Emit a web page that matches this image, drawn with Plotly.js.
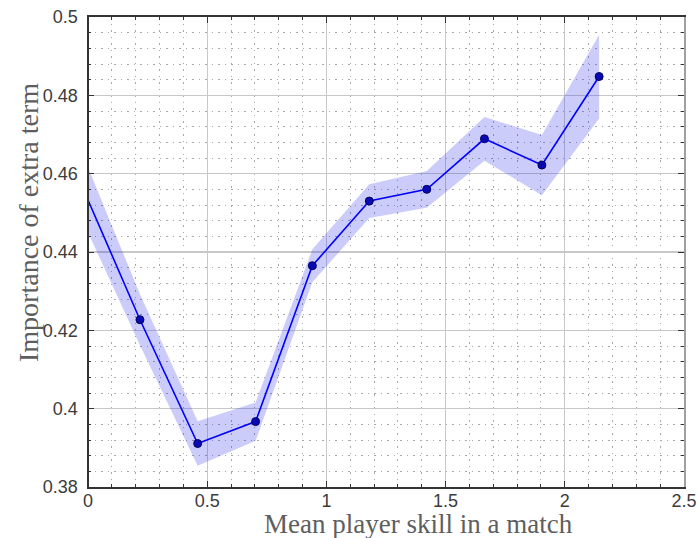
<!DOCTYPE html>
<html>
<head>
<meta charset="utf-8">
<script src="https://cdn.plot.ly/plotly-3.0.1.min.js"></script>
<style>
  html, body { margin: 0; padding: 0; background: #fff; }
  #chart { width: 699px; height: 538px; }
</style>
</head>
<body>
<div id="chart"></div>
<script>
// Mean player skill per match bin
const skill = [-0.02, 0.218, 0.460, 0.703, 0.941, 1.180, 1.421, 1.663, 1.904, 2.144];
// Importance of the extra term in each bin
const importance = [0.4561, 0.4227, 0.3911, 0.3967, 0.4365, 0.4530, 0.4560, 0.4689, 0.4622, 0.4848];
// Half-width of the uncertainty band around each estimate
const spread = [0.0085, 0.0065, 0.0057, 0.0049, 0.0042, 0.0043, 0.0047, 0.0056, 0.0077, 0.0107];

const xTickVals = [0, 0.5, 1, 1.5, 2, 2.5];
const xTickText = ['0', '0.5', '1', '1.5', '2', '2.5'];
const yTickVals = [0.38, 0.4, 0.42, 0.44, 0.46, 0.48, 0.5];
const yTickText = ['0.38', '0.4', '0.42', '0.44', '0.46', '0.48', '0.5'];

const upper = importance.map((v, i) => v + spread[i]);
const lower = importance.map((v, i) => v - spread[i]);

const traces = [
  {
    x: skill, y: lower, mode: 'lines', type: 'scatter',
    line: { width: 0, color: 'rgba(0,0,255,0)' }, hoverinfo: 'skip', showlegend: false
  },
  {
    x: skill, y: upper, mode: 'lines', type: 'scatter', fill: 'tonexty',
    fillcolor: 'rgba(40,40,240,0.24)',
    line: { width: 0, color: 'rgba(0,0,255,0)' }, hoverinfo: 'skip', showlegend: false
  },
  {
    x: skill, y: importance, mode: 'lines+markers', type: 'scatter',
    line: { color: '#0000ff', width: 1.6 },
    marker: { size: 8, color: '#0a0ab4', line: { color: '#000060', width: 1 } },
    showlegend: false
  }
];

const tickFont = { family: 'Liberation Sans, Arial, sans-serif', size: 18, color: '#3c3c3c' };
const titleFont = { family: 'Liberation Serif, Times New Roman, serif', size: 27, color: '#5e5e5e' };

const minorGrid = { showgrid: true, gridcolor: '#a8a8a8', griddash: '1.5px,5px', gridwidth: 1,
                    ticks: 'inside', ticklen: 3, tickcolor: '#333' };

const layout = {
  width: 699, height: 538,
  margin: { l: 88, r: 15, t: 17, b: 51, pad: 0 },
  paper_bgcolor: '#ffffff', plot_bgcolor: '#ffffff',
  showlegend: false,
  xaxis: {
    range: [0, 2.5], tickvals: xTickVals, ticktext: xTickText,
    ticks: 'inside', ticklen: 6, tickcolor: '#333', tickwidth: 1,
    showline: true, linecolor: '#333', linewidth: 2, mirror: 'allticks',
    showgrid: true, gridcolor: '#c8c8c8', gridwidth: 1.2,
    zeroline: false, tickfont: tickFont, ticklabelstandoff: -4,
    minor: Object.assign({ dtick: 0.1 }, minorGrid)
  },
  yaxis: {
    range: [0.38, 0.5], tickvals: yTickVals, ticktext: yTickText,
    ticks: 'inside', ticklen: 6, tickcolor: '#333', tickwidth: 1,
    showline: true, linecolor: '#a0a0a0', linewidth: 1.5, mirror: 'allticks',
    showgrid: true, gridcolor: '#c8c8c8', gridwidth: 1.2,
    zeroline: false, tickfont: tickFont, ticklabelstandoff: 5,
    minor: Object.assign({ dtick: 0.004 }, minorGrid)
  },
  shapes: [
    { type: 'line', xref: 'paper', yref: 'paper', x0: 0, x1: 0, y0: 0, y1: 1,
      line: { color: '#333', width: 2 } }
  ],
  annotations: [
    { text: 'Mean player skill in a match', xref: 'paper', yref: 'paper',
      x: 0.5545, y: -0.0785, xanchor: 'center', yanchor: 'middle',
      showarrow: false, font: titleFont },
    { text: 'Importance of extra term', xref: 'paper', yref: 'paper',
      x: -0.1007, y: 0.5638, xanchor: 'center', yanchor: 'middle', textangle: -90,
      showarrow: false, font: { family: titleFont.family, size: 28, color: titleFont.color } }
  ]
};

Plotly.newPlot('chart', traces, layout, { displayModeBar: false, staticPlot: true });
</script>
</body>
</html>
